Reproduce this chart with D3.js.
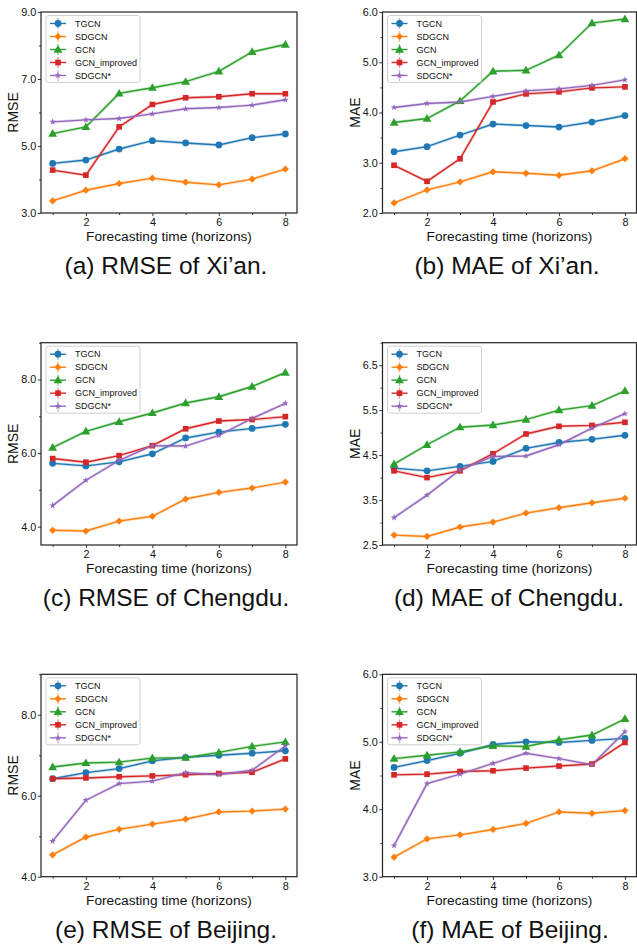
<!DOCTYPE html>
<html>
<head>
<meta charset="utf-8">
<script src="https://cdn.jsdelivr.net/npm/d3@7"></script>
<style>
  html, body { margin: 0; padding: 0; background: #fff; }
  svg { display: block; }
  text { font-family: "Liberation Sans", Arial, Helvetica, sans-serif; fill: #111; }
</style>
</head>
<body>
<svg id="chart" width="637" height="945"></svg>
<script>
// Forecast horizons on the x axis
const horizons = [1, 2, 3, 4, 5, 6, 7, 8];
const xTicks = [2, 4, 6, 8];
const xMinorTicks = [1, 3, 5, 7];

// Models (series order inside every metric array below)
const models = ["TGCN", "SDGCN", "GCN", "GCN_improved", "SDGCN*"];
const colors = ["#1f77b4", "#ff7f0e", "#2ca02c", "#d62728", "#9467bd"];
const markers = ["circle", "diamond", "triangle", "square", "star"];

// Xi'an
const xianRMSE = [
  [4.48, 4.58, 4.91, 5.16, 5.09, 5.03, 5.25, 5.36],
  [3.36, 3.68, 3.88, 4.04, 3.92, 3.84, 4.01, 4.31],
  [5.37, 5.57, 6.57, 6.74, 6.92, 7.23, 7.81, 8.03],
  [4.28, 4.13, 5.57, 6.24, 6.44, 6.47, 6.56, 6.56],
  [5.72, 5.78, 5.82, 5.96, 6.11, 6.15, 6.22, 6.38]
];
const xianMAE = [
  [3.22, 3.32, 3.55, 3.77, 3.74, 3.71, 3.81, 3.94],
  [2.20, 2.46, 2.62, 2.82, 2.79, 2.75, 2.84, 3.08],
  [3.80, 3.88, 4.23, 4.82, 4.84, 5.14, 5.78, 5.86],
  [2.95, 2.63, 3.08, 4.21, 4.37, 4.41, 4.49, 4.51],
  [4.10, 4.18, 4.21, 4.32, 4.43, 4.47, 4.54, 4.65]
];

// Chengdu
const chengduRMSE = [
  [5.72, 5.65, 5.76, 5.98, 6.41, 6.57, 6.67, 6.78],
  [3.90, 3.88, 4.15, 4.28, 4.75, 4.93, 5.05, 5.21],
  [6.15, 6.59, 6.85, 7.09, 7.36, 7.53, 7.81, 8.19],
  [5.85, 5.75, 5.93, 6.20, 6.66, 6.87, 6.91, 6.99],
  [4.57, 5.26, 5.80, 6.20, 6.19, 6.48, 6.94, 7.35]
];
const chengduMAE = [
  [4.21, 4.15, 4.25, 4.36, 4.65, 4.78, 4.85, 4.94],
  [2.72, 2.69, 2.90, 3.01, 3.21, 3.33, 3.44, 3.54],
  [4.30, 4.73, 5.12, 5.17, 5.29, 5.50, 5.60, 5.93],
  [4.15, 4.00, 4.15, 4.53, 4.97, 5.14, 5.16, 5.23],
  [3.11, 3.61, 4.17, 4.47, 4.48, 4.73, 5.10, 5.42]
];

// Beijing
const beijingRMSE = [
  [6.42, 6.57, 6.67, 6.86, 6.95, 7.00, 7.05, 7.11],
  [4.54, 4.98, 5.17, 5.30, 5.42, 5.60, 5.62, 5.67],
  [6.71, 6.81, 6.83, 6.93, 6.94, 7.07, 7.22, 7.33],
  [6.42, 6.44, 6.47, 6.49, 6.52, 6.55, 6.58, 6.91],
  [4.88, 5.89, 6.30, 6.36, 6.57, 6.52, 6.63, 7.23]
];
const beijingMAE = [
  [4.62, 4.72, 4.83, 4.96, 5.00, 4.99, 5.02, 5.05],
  [3.29, 3.56, 3.62, 3.70, 3.79, 3.96, 3.94, 3.98],
  [4.75, 4.80, 4.85, 4.94, 4.93, 5.03, 5.10, 5.34],
  [4.51, 4.52, 4.56, 4.57, 4.61, 4.64, 4.67, 4.99],
  [3.46, 4.38, 4.52, 4.68, 4.83, 4.75, 4.66, 5.15]
];

// Y tick labels per panel (major, labelled) and minor ticks
const xianRmseTicks = [3, 5, 7, 9],          xianRmseMinor = [4, 6, 8];
const xianMaeTicks = [2, 3, 4, 5, 6],        xianMaeMinor = [2.5, 3.5, 4.5, 5.5];
const chengduRmseTicks = [4, 6, 8],          chengduRmseMinor = [5, 7, 9];
const chengduMaeTicks = [2.5, 3.5, 4.5, 5.5, 6.5], chengduMaeMinor = [3, 4, 5, 6, 7];
const beijingRmseTicks = [4, 6, 8],          beijingRmseMinor = [5, 7, 9];
const beijingMaeTicks = [3, 4, 5, 6],        beijingMaeMinor = [3.5, 4.5, 5.5];

const xLabel = "Forecasting time (horizons)";

// Panel descriptions: data, axis settings and plot-box placement
const panels = [
  { values: xianRMSE, metric: "RMSE", caption: "(a) RMSE of Xi’an.", yDomain: [3, 9],
    ticks: xianRmseTicks, minor: xianRmseMinor, box: [41, 297, 12, 213], capX: 166 },
  { values: xianMAE, metric: "MAE", caption: "(b) MAE of Xi’an.", yDomain: [2, 6],
    ticks: xianMaeTicks, minor: xianMaeMinor, box: [382.5, 636.5, 12, 213], capX: 507 },
  { values: chengduRMSE, metric: "RMSE", caption: "(c) RMSE of Chengdu.", yDomain: [3.5, 9],
    ticks: chengduRmseTicks, minor: chengduRmseMinor, box: [41, 297, 342.7, 545], capX: 166 },
  { values: chengduMAE, metric: "MAE", caption: "(d) MAE of Chengdu.", yDomain: [2.5, 7],
    ticks: chengduMaeTicks, minor: chengduMaeMinor, box: [382.5, 636.5, 342.7, 545], capX: 509 },
  { values: beijingRMSE, metric: "RMSE", caption: "(e) RMSE of Beijing.", yDomain: [4, 9],
    ticks: beijingRmseTicks, minor: beijingRmseMinor, box: [41, 297, 674.3, 876.7], capX: 166 },
  { values: beijingMAE, metric: "MAE", caption: "(f) MAE of Beijing.", yDomain: [3, 6],
    ticks: beijingMaeTicks, minor: beijingMaeMinor, box: [382.5, 636.5, 674.3, 876.7], capX: 510 }
];

const svg = d3.select("#chart");
const fmt = d3.format(".1f");

function markerPath(kind) {
  switch (kind) {
    case "circle":   return d3.symbol(d3.symbolCircle, 36)();
    case "diamond":  return d3.symbol(d3.symbolSquare, 26)();
    case "triangle": return d3.symbol(d3.symbolTriangle, 34)();
    case "square":   return d3.symbol(d3.symbolSquare, 32)();
    case "star":     return d3.symbol(d3.symbolStar, 14)();
  }
}
function markerTransform(kind, x, y) {
  if (kind === "diamond") return `translate(${x},${y}) rotate(45)`;
  if (kind === "triangle") return `translate(${x},${y + 0.6})`;
  return `translate(${x},${y})`;
}

panels.forEach(p => {
  const [x0, x1, y0, y1] = p.box;
  const x = d3.scaleLinear().domain([0.65, 8.35]).range([x0, x1]);
  const y = d3.scaleLinear().domain(p.yDomain).range([y1, y0]);
  const g = svg.append("g");

  // Axes with outward ticks
  const yAxis = d3.axisLeft(y).tickValues(p.ticks).tickFormat(fmt).tickSize(3.2).tickPadding(1.5);
  const yMinor = d3.axisLeft(y).tickValues(p.minor).tickFormat("").tickSize(2);
  const xAxis = d3.axisBottom(x).tickValues(xTicks).tickFormat(d3.format("d")).tickSize(3.2).tickPadding(2);
  const xMinor = d3.axisBottom(x).tickValues(xMinorTicks).tickFormat("").tickSize(2);

  const styleAxis = sel => {
    sel.select(".domain").remove();
    sel.selectAll(".tick line").attr("stroke", "#222").attr("stroke-width", 0.9);
    sel.selectAll(".tick text").attr("font-size", 10.8)
      .attr("font-family", "'Liberation Sans', Arial, sans-serif").attr("fill", "#111");
  };
  g.append("g").attr("transform", `translate(${x0},0)`).call(yAxis).call(styleAxis);
  g.append("g").attr("transform", `translate(${x0},0)`).call(yMinor).call(styleAxis);
  g.append("g").attr("transform", `translate(0,${y1})`).call(xAxis).call(styleAxis);
  g.append("g").attr("transform", `translate(0,${y1})`).call(xMinor).call(styleAxis);

  // Series: faint halo, line, then markers
  const line = d3.line().x((d, i) => x(horizons[i])).y(d => y(d));
  p.values.forEach((vals, s) => {
    g.append("path").datum(vals).attr("d", line)
      .attr("fill", "none").attr("stroke", colors[s]).attr("stroke-width", 3)
      .attr("stroke-opacity", 0.25);
    g.append("path").datum(vals).attr("d", line)
      .attr("fill", "none").attr("stroke", colors[s]).attr("stroke-width", 1.4);
  });
  p.values.forEach((vals, s) => {
    g.selectAll(null).data(vals).enter().append("path")
      .attr("d", markerPath(markers[s]))
      .attr("transform", (d, i) => markerTransform(markers[s], x(horizons[i]), y(d)))
      .attr("fill", colors[s]);
  });

  // Frame
  g.append("rect").attr("x", x0).attr("y", y0).attr("width", x1 - x0).attr("height", y1 - y0)
    .attr("fill", "none").attr("stroke", "#222").attr("stroke-width", 1.2);

  // Legend
  const lx = x0 + 5, ly = y0 + 3.5;
  const leg = g.append("g").attr("transform", `translate(${lx},${ly})`);
  leg.append("rect").attr("width", 94).attr("height", 67).attr("rx", 2.5)
    .attr("fill", "#fff").attr("fill-opacity", 0.85).attr("stroke", "#ccc").attr("stroke-width", 0.9);
  models.forEach((m, s) => {
    const ry = 8 + s * 13;
    leg.append("line").attr("x1", 4).attr("x2", 20).attr("y1", ry).attr("y2", ry)
      .attr("stroke", colors[s]).attr("stroke-width", 1.4);
    leg.append("line").attr("x1", 12).attr("x2", 12).attr("y1", ry - 5.5).attr("y2", ry + 5.5)
      .attr("stroke", colors[s]).attr("stroke-width", 1.4).attr("stroke-opacity", 0.5);
    leg.append("path").attr("d", markerPath(markers[s]))
      .attr("transform", markerTransform(markers[s], 12, ry)).attr("fill", colors[s]);
    leg.append("text").attr("x", 29).attr("y", ry).attr("dy", "0.35em")
      .attr("font-size", 9).text(m);
  });

  // Axis titles and caption
  g.append("text").attr("transform", `translate(${x0 - 28},${(y0 + y1) / 2}) rotate(-90)`)
    .attr("text-anchor", "middle").attr("dy", "0.36em").attr("font-size", 14).text(p.metric);
  g.append("text").attr("x", (x0 + x1) / 2).attr("y", y1 + 28)
    .attr("text-anchor", "middle").attr("font-size", 13.7).text(xLabel);
  g.append("text").attr("x", p.capX).attr("y", y1 + 61)
    .attr("text-anchor", "middle").attr("font-size", 24.5).text(p.caption);
});
</script>
</body>
</html>
